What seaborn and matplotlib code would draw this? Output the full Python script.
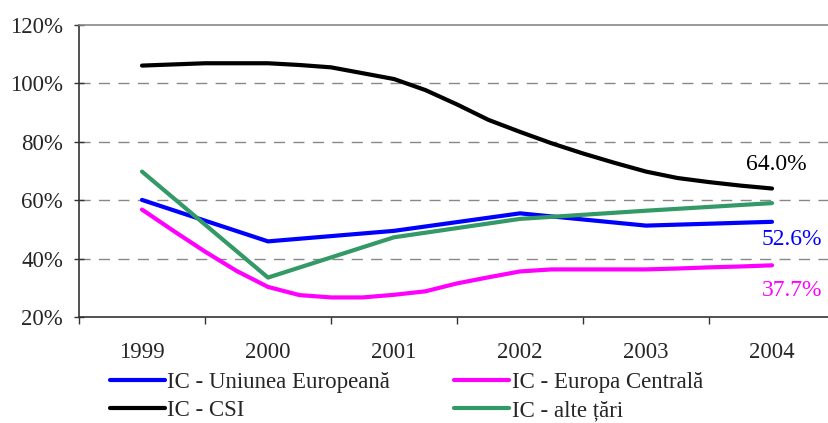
import numpy as np
import pandas as pd
import matplotlib
matplotlib.use("Agg")
import matplotlib.pyplot as plt
import seaborn as sns

# Years shown on the category axis
years = [1999, 2000, 2001, 2002, 2003, 2004]

# Annual series (%)
eu_values = [60.1, 45.9, 49.5, 55.5, 51.3, 52.6]
other_values = [69.8, 33.5, 47.3, 53.6, 56.4, 59.0]

# Quarterly series (%), from 1999 to 2004 in quarter-year steps
quarter_x = [1999 + 0.25 * k for k in range(21)]
csi_values = [106.1, 106.5, 106.9, 106.9, 106.9, 106.3, 105.5, 103.5, 101.5,
              97.7, 92.8, 87.5, 83.4, 79.5, 76.0, 72.8, 69.8, 67.6, 66.2,
              65.0, 64.0]
central_values = [56.8, 49.5, 42.4, 35.8, 30.3, 27.5, 26.7, 26.7, 27.6, 28.8,
                  31.5, 33.6, 35.6, 36.3, 36.3, 36.3, 36.3, 36.6, 37.0, 37.3,
                  37.7]

series_names = ["IC - Uniunea Europeană", "IC - CSI",
                "IC - Europa Centrală", "IC - alte țări"]
series_colors = ["#0000FF", "#000000", "#FF00FF", "#339966"]

end_labels = ["52.6%", "64.0%", "37.7%"]

frames = [
    pd.DataFrame({"an": years, "valoare": eu_values, "serie": series_names[0]}),
    pd.DataFrame({"an": quarter_x, "valoare": csi_values, "serie": series_names[1]}),
    pd.DataFrame({"an": quarter_x, "valoare": central_values, "serie": series_names[2]}),
    pd.DataFrame({"an": years, "valoare": other_values, "serie": series_names[3]}),
]
df = pd.concat(frames, ignore_index=True)

sns.set_theme(style="white")
plt.rcParams["font.family"] = ["Liberation Serif", "DejaVu Serif"]

FS = 16.5

fig = plt.figure(figsize=(8.29, 4.23), dpi=100)
ax = fig.add_axes([79 / 829, 1 - 317 / 423, 756 / 829, 292 / 423])

sns.lineplot(data=df, x="an", y="valoare", hue="serie", hue_order=series_names,
             palette=dict(zip(series_names, series_colors)), estimator=None,
             sort=False, linewidth=3, ax=ax, legend=True)

ax.set_xlim(1998.5, 2004.5)
ax.set_ylim(20, 120)
ax.set_yticks(np.arange(20, 121, 20))
ax.set_yticklabels([f"{v}%" for v in range(20, 121, 20)])
ax.set_xticks([y - 0.5 for y in years] + [2004.5])
ax.set_xticklabels([])
ax.set_xticks(years, minor=True)
ax.set_xticklabels([str(y) for y in years], minor=True)
ax.set_xlabel("")
ax.set_ylabel("")

ax.tick_params(axis="y", which="major", direction="inout", length=7, width=1,
               color="#333333", labelsize=FS, pad=8, left=True)
ax.tick_params(axis="x", which="major", direction="out", length=5, width=1,
               color="#333333", bottom=True)
ax.tick_params(axis="x", which="minor", length=0, labelsize=FS, pad=18)

for v in [40, 60, 80, 100]:
    ax.axhline(v, color="#888888", linewidth=1, linestyle=(0, (8, 6)), zorder=0)

for side in ["left", "bottom"]:
    ax.spines[side].set_color("#333333")
    ax.spines[side].set_linewidth(1.2)
ax.spines["top"].set_color("#888888")
ax.spines["top"].set_linewidth(1.2)
ax.spines["right"].set_visible(False)

# Value labels at the last year
ax.annotate(end_labels[1], (2004, csi_values[-1]), xytext=(4, 24),
            textcoords="offset pixels", ha="center", va="center",
            fontsize=FS + 0.5, color="#000000")
ax.annotate(end_labels[0], (2004, eu_values[-1]), xytext=(20, -18),
            textcoords="offset pixels", ha="center", va="center",
            fontsize=FS + 0.5, color="#0000FF")
ax.annotate(end_labels[2], (2004, central_values[-1]), xytext=(20, -25),
            textcoords="offset pixels", ha="center", va="center",
            fontsize=FS + 0.5, color="#FF00FF")

handles, labels = ax.get_legend_handles_labels()
ax.get_legend().remove()
leg = fig.legend(handles, labels, loc="upper left",
                 bbox_to_anchor=(110 / 829, 1 - 372 / 423), ncol=2,
                 frameon=False, fontsize=FS, handlelength=2.4,
                 handletextpad=0.1, columnspacing=2.8, borderpad=0,
                 borderaxespad=0, labelspacing=0.3)
for line in leg.get_lines():
    line.set_linewidth(3)

fig.savefig("out.png", dpi=100)
